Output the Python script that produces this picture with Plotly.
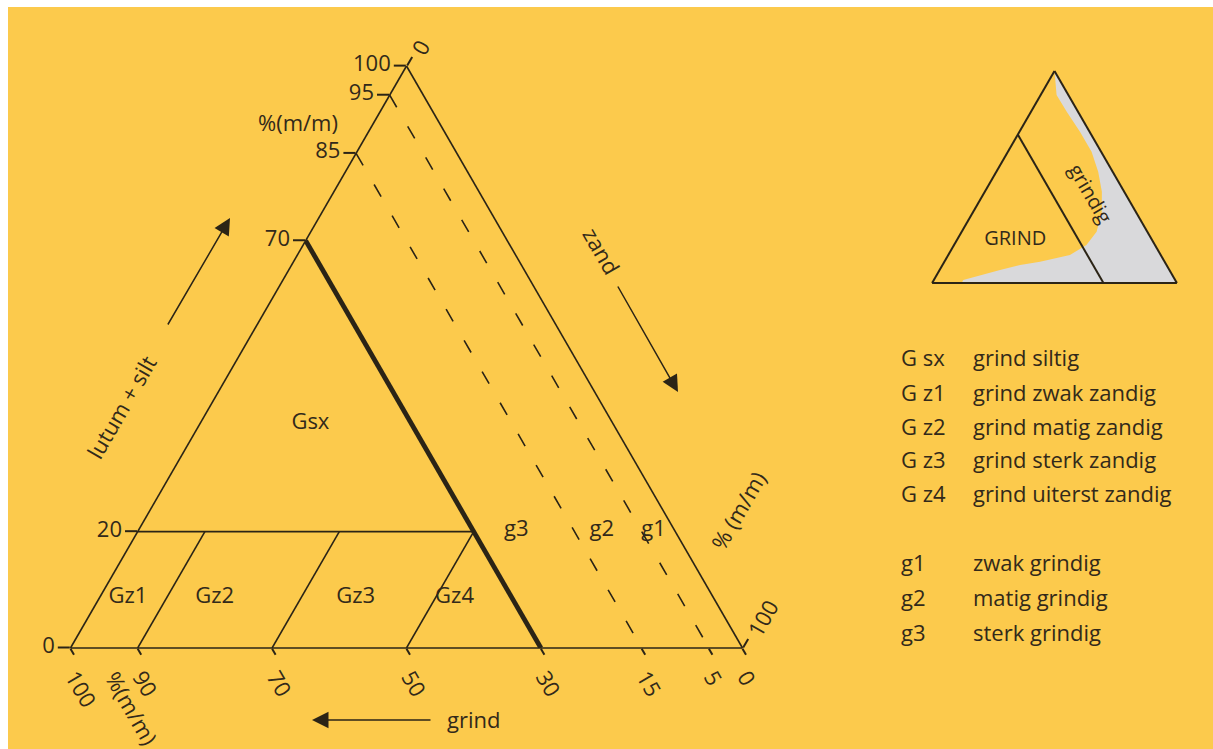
import plotly.graph_objects as go

# ---------------- data ----------------
# main diagram: a = lutum + silt, b = grind, c = zand   (% m/m)
lutum_ticks = [0, 20, 70, 85, 95, 100]
grind_ticks = [100, 90, 70, 50, 30, 15, 5, 0]
zand_ticks = [0, 100]

grind_limit_thick = 30          # g3 / G boundary (thick line)
grind_limits_dashed = [15, 5]   # g2, g1 boundaries (dashed)
lutum_limit = 20                # Gsx / Gz boundary
zand_limits = [10, 30, 50]      # Gz1 | Gz2 | Gz3 | Gz4

region_names = ["Gsx", "Gz1", "Gz2", "Gz3", "Gz4", "g3", "g2", "g1"]
region_a = [38.6, 8.7, 8.7, 8.7, 8.7, 20.1, 20.1, 20.1]
region_b = [45.0, 87.1, 74.2, 53.2, 38.5, 23.6, 10.9, 3.2]
region_c = [16.4, 4.2, 17.1, 38.1, 52.8, 56.3, 69.0, 76.7]

# inset diagram
inset_grind_limit = 30
grey_a = [100, 88.7, 80.8, 71.4, 61.9, 52.5, 43.1, 33.6, 24.2, 17.9, 13.2, 10.0, 8.5, 6.1, 1.4, 0, 0, 100]
grey_b = [0, 4.8, 4.6, 3.9, 3.9, 5.9, 9.1, 13.9, 20.7, 28.0, 37.1, 50.9, 59.8, 69.2, 86.6, 87.9, 0, 0]
grey_c = [0, 6.5, 14.6, 24.7, 34.2, 41.6, 47.8, 52.5, 55.1, 54.1, 49.7, 39.1, 31.7, 24.7, 12.0, 12.1, 100, 0]

legend_codes = ["G sx", "G z1", "G z2", "G z3", "G z4", "g1", "g2", "g3"]
legend_desc = ["grind siltig", "grind zwak zandig", "grind matig zandig",
               "grind sterk zandig", "grind uiterst zandig",
               "zwak grindig", "matig grindig", "sterk grindig"]

# ---------------- styling ----------------
W, H = 1213, 749
BG = "#FCCA4C"
INK = "#2b2416"
TXT = "#32291a"
FONT = "Open Sans"
FS = 22


def px(x):
    return x / W


def py(y):
    return 1 - y / H


fig = go.Figure()

# --- boundary lines in main diagram ---
g = grind_limit_thick
fig.add_trace(go.Scatterternary(a=[100 - g, 0], b=[g, g], c=[0, 100 - g], mode="lines",
                                line=dict(color=INK, width=4.8), subplot="ternary",
                                showlegend=False, hoverinfo="skip"))
for g in grind_limits_dashed:
    fig.add_trace(go.Scatterternary(a=[100 - g, 0], b=[g, g], c=[0, 100 - g], mode="lines",
                                    line=dict(color=INK, width=1.6, dash="14px,22px"),
                                    subplot="ternary", showlegend=False, hoverinfo="skip"))
L = lutum_limit
fig.add_trace(go.Scatterternary(a=[L, L], b=[100 - L, grind_limit_thick],
                                c=[0, 100 - L - grind_limit_thick], mode="lines",
                                line=dict(color=INK, width=1.6), subplot="ternary",
                                showlegend=False, hoverinfo="skip"))
for z in zand_limits:
    fig.add_trace(go.Scatterternary(a=[0, L], b=[100 - z, 100 - L - z], c=[z, z], mode="lines",
                                    line=dict(color=INK, width=1.6), subplot="ternary",
                                    showlegend=False, hoverinfo="skip"))

# --- region labels ---
fig.add_trace(go.Scatterternary(a=region_a, b=region_b, c=region_c, mode="text",
                                text=region_names, textfont=dict(family=FONT, size=FS, color=TXT),
                                subplot="ternary", showlegend=False, hoverinfo="skip"))

# --- inset diagram ---
fig.add_trace(go.Scatterternary(a=grey_a, b=grey_b, c=grey_c, mode="lines", fill="toself",
                                fillcolor="#D9D9DB", line=dict(width=0, color="#D9D9DB"),
                                subplot="ternary2", showlegend=False, hoverinfo="skip"))
gi = inset_grind_limit
fig.add_trace(go.Scatterternary(a=[100 - gi, 0], b=[gi, gi], c=[0, 100 - gi], mode="lines",
                                line=dict(color=INK, width=2), subplot="ternary2",
                                showlegend=False, hoverinfo="skip"))
fig.add_trace(go.Scatterternary(a=[20.3], b=[55.9], c=[23.8], mode="text", text=["GRIND"],
                                textfont=dict(family=FONT, size=20, color=TXT),
                                subplot="ternary2", showlegend=False, hoverinfo="skip"))


def axis(tickvals, angle, show=True, lw=1.6, tlen=10):
    return dict(
        tickmode="array", tickvals=tickvals, ticktext=[str(v) for v in tickvals],
        ticks="outside" if show else "", ticklen=tlen, tickwidth=1.5, tickcolor=INK,
        tickangle=angle, showticklabels=show,
        tickfont=dict(family=FONT, size=FS, color=TXT),
        showgrid=False, showline=True, linecolor=INK, linewidth=lw,
        title=dict(text=""), min=0,
    )


fig.update_layout(
    width=W, height=H,
    margin=dict(l=0, r=0, t=0, b=0),
    paper_bgcolor="white",
    plot_bgcolor=BG,
    ternary=dict(
        sum=100,
        domain=dict(x=[px(70.5), px(742.5)], y=[py(648), py(66)]),
        bgcolor="rgba(0,0,0,0)",
        aaxis=axis(lutum_ticks, 0, tlen=12),
        baxis=axis(grind_ticks, 60, tlen=7),
        caxis=axis(zand_ticks, -60, tlen=10),
    ),
    ternary2=dict(
        sum=100,
        domain=dict(x=[px(932), px(1177)], y=[py(283), py(71)]),
        bgcolor="rgba(0,0,0,0)",
        aaxis=axis([], 0, show=False, lw=2),
        baxis=axis([], 0, show=False, lw=2),
        caxis=axis([], 0, show=False, lw=2),
    ),
    shapes=[dict(type="rect", xref="paper", yref="paper", x0=px(8), x1=1, y0=0, y1=py(7),
                 fillcolor=BG, line=dict(width=0), layer="below")],
)

ann = []
tf = dict(family=FONT, size=FS, color=TXT)
C = dict(showarrow=False, xanchor="center", yanchor="middle", font=tf)
# axis titles
ann.append(dict(x=px(298), y=py(122), text="%(m/m)", **C))
ann.append(dict(x=px(132), y=py(708), text="%(m/m)", textangle=60, **C))
ann.append(dict(x=px(738), y=py(510), text="% (m/m)", textangle=-60, **C))
# axis names
ann.append(dict(x=px(121), y=py(407), text="lutum + silt", textangle=-60, **C))
ann.append(dict(x=px(602), y=py(251), text="zand", textangle=60, **C))
ann.append(dict(x=px(473), y=py(719), text="grind", **C))
# arrows
arrow = dict(text="", showarrow=True, arrowhead=2, arrowsize=2.2, arrowwidth=1.5,
             arrowcolor=INK, axref="pixel", ayref="pixel")
ann.append(dict(x=px(230), y=py(218), ax=167 - 230, ay=326 - 218, **arrow))
ann.append(dict(x=px(678), y=py(392), ax=617 - 678, ay=285 - 392, **arrow))
ann.append(dict(x=px(312), y=py(720), ax=432 - 312, ay=0, **arrow))
# inset label
ann.append(dict(x=px(1091), y=py(193), text="grindig", showarrow=False, xanchor="center",
                yanchor="middle", font=dict(family=FONT, size=20, color=TXT), textangle=60))
# legend
rows_y = [357, 392, 426, 459, 493, 562, 597, 632]
for code, desc, yy in zip(legend_codes, legend_desc, rows_y):
    ann.append(dict(x=px(899), y=py(yy), text=code, showarrow=False, xanchor="left",
                    yanchor="middle", font=tf))
    ann.append(dict(x=px(971), y=py(yy), text=desc, showarrow=False, xanchor="left",
                    yanchor="middle", font=tf))
fig.update_layout(annotations=ann)

fig.write_html(
    "out.html",
    config={"displayModeBar": False},
    post_script="document.body.style.margin='0';document.body.style.overflow='hidden';",
)
